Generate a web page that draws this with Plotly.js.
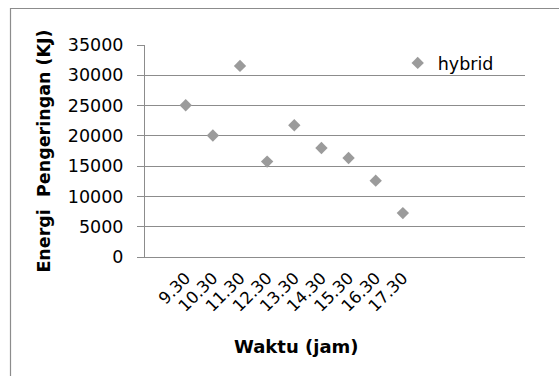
<!DOCTYPE html>
<html>
<head>
<meta charset="utf-8">
<script src="https://cdn.plot.ly/plotly-3.0.1.min.js"></script>
<style>
html,body{margin:0;padding:0;background:#fff;}
#chart{width:559px;height:376px;}
</style>
</head>
<body>
<div id="chart"></div>
<script>
var categories = ["9.30","10.30","11.30","12.30","13.30","14.30","15.30","16.30","17.30"];
var hybridValues = [25050, 20050, 31550, 15750, 21750, 18000, 16350, 12600, 7250];
var seriesName = "hybrid";
var xTitle = "Waktu (jam)";
var yTitle = "Energi\u00a0 Pengeringan (KJ)";

var FONT = "DejaVu Sans, Verdana, sans-serif";
var GRID = "#8c8c8c";

var trace = {
  type: "scatter",
  mode: "markers",
  name: seriesName,
  x: categories,
  y: hybridValues,
  marker: {symbol: "diamond", size: 9.5, color: "#9b9b9b"},
  showlegend: true
};

var layout = {
  width: 559, height: 376,
  margin: {l: 145, r: 34, t: 45, b: 119},
  paper_bgcolor: "#ffffff",
  plot_bgcolor: "#ffffff",
  font: {family: FONT, size: 17, color: "#000"},
  showlegend: true,
  legend: {
    x: 0.665, y: 0.915, xanchor: "left", yanchor: "middle",
    bgcolor: "rgba(0,0,0,0)",
    font: {family: FONT, size: 17.5, color: "#000"},
    itemwidth: 30
  },
  xaxis: {
    type: "category",
    range: [-1.5, 12.5],
    showgrid: false,
    showline: true, linecolor: GRID, linewidth: 1,
    ticks: "", tickangle: -45,
    tickfont: {family: FONT, size: 16.5, color: "#000"},
    ticklabelstandoff: 4,
    zeroline: false,
    fixedrange: true
  },
  yaxis: {
    range: [0, 35000],
    dtick: 5000,
    tick0: 0,
    tickformat: "d",
    showgrid: true, gridcolor: GRID, gridwidth: 1,
    showline: true, linecolor: GRID, linewidth: 1,
    ticks: "outside", ticklen: 7, tickcolor: GRID, tickwidth: 1,
    tickfont: {family: FONT, size: 17.5, color: "#000"},
    ticklabelstandoff: 10,
    zeroline: false,
    title: {text: yTitle, font: {family: FONT, size: 17.5, color: "#000", weight: "bold"}, standoff: 12},
    fixedrange: true
  },
  annotations: [{
    xref: "paper", yref: "paper",
    x: (296 - 145) / 380, y: (257 - 346) / 212,
    xanchor: "center", yanchor: "middle",
    text: "<b>" + xTitle + "</b>",
    showarrow: false,
    font: {family: FONT, size: 18, color: "#000"}
  }],
  shapes: [{
    type: "rect", xref: "paper", yref: "paper",
    x0: (10.5 - 145) / 380, x1: (575 - 145) / 380,
    y0: (257 - 390) / 212, y1: (257 - 8.5) / 212,
    line: {color: "#8c8c8c", width: 1.2},
    fillcolor: "rgba(0,0,0,0)",
    layer: "below"
  }]
};

Plotly.newPlot("chart", [trace], layout, {displayModeBar: false, staticPlot: true});
</script>
</body>
</html>
